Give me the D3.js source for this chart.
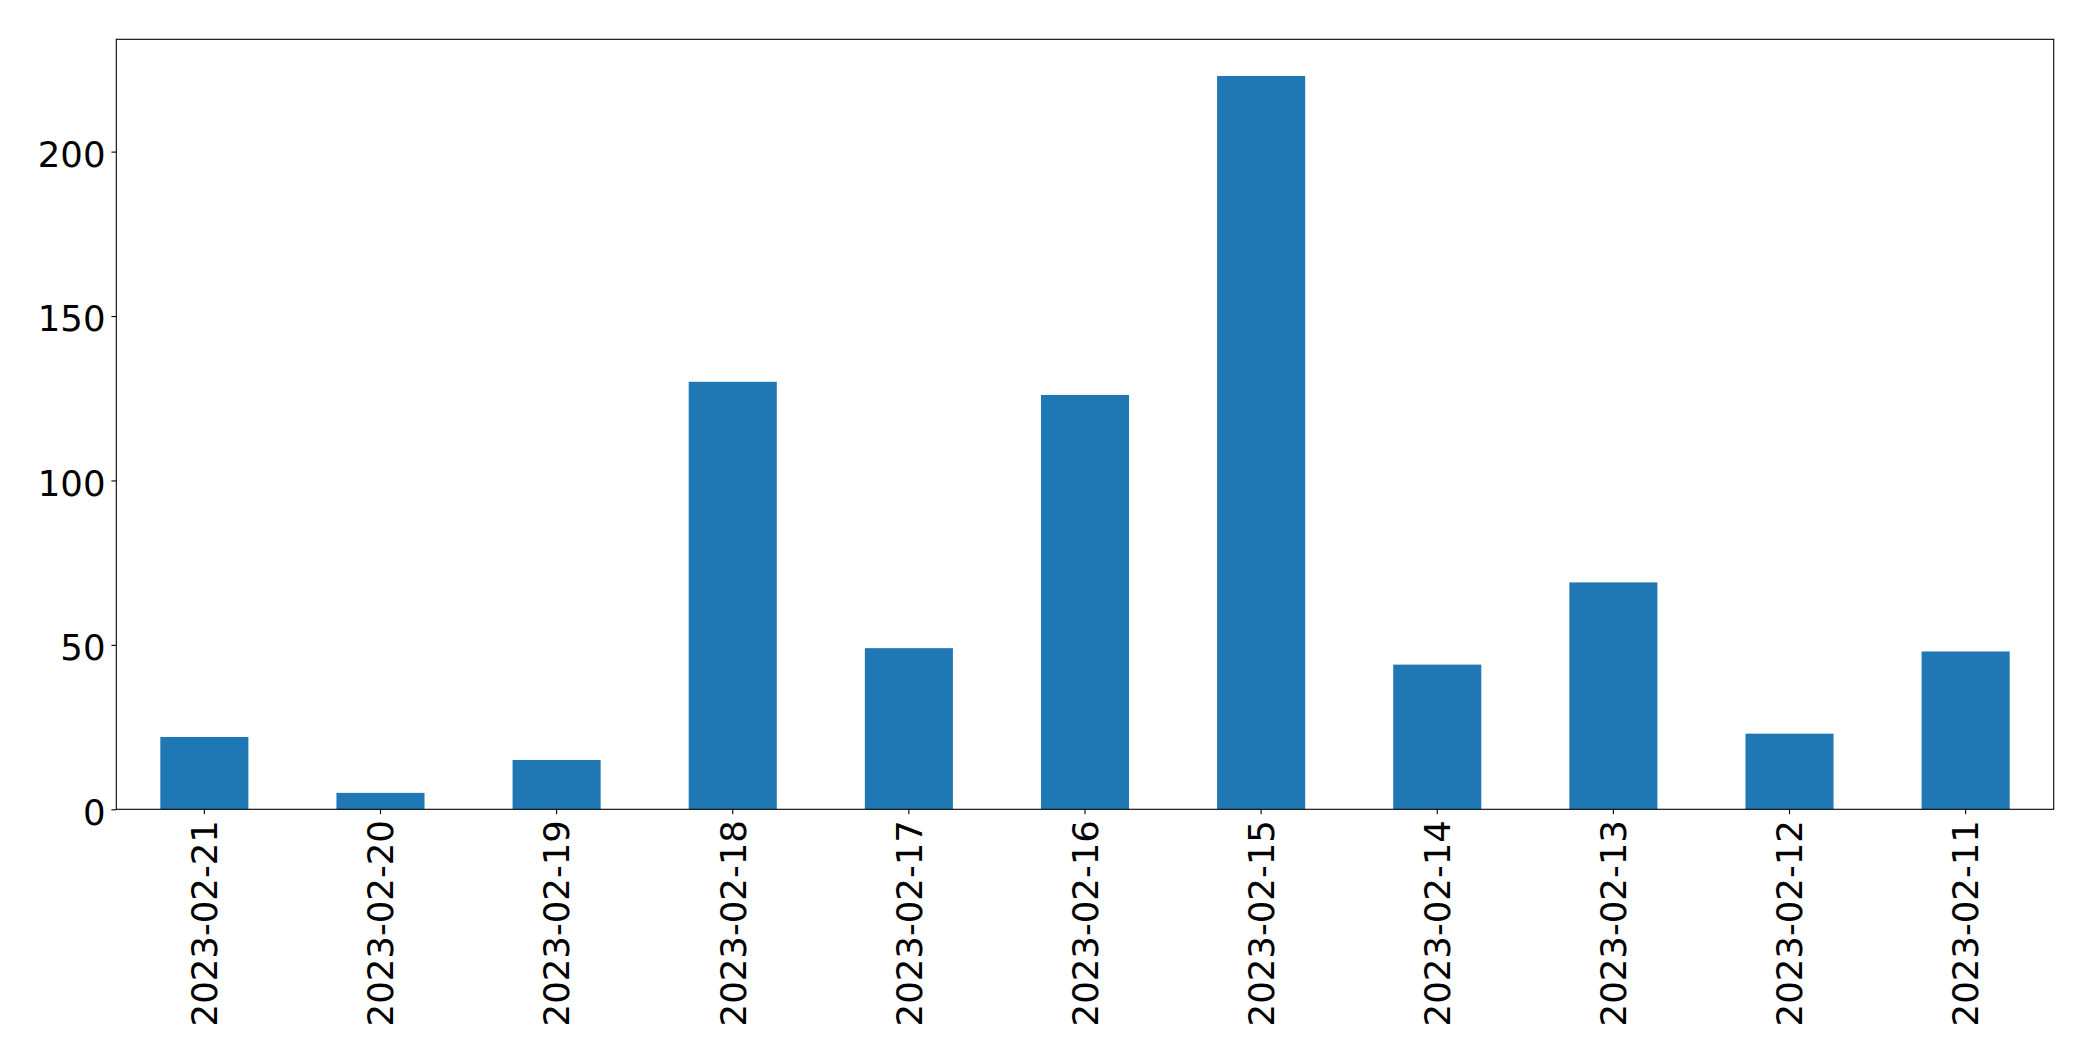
<!DOCTYPE html>
<html>
<head>
<meta charset="utf-8">
<script src="https://cdn.jsdelivr.net/npm/d3@7"></script>
<style>
  html, body { margin: 0; padding: 0; background: #fff; }
  svg { display: block; }
  text { font-family: "DejaVu Sans", sans-serif; fill: #000; }
</style>
</head>
<body>
<script>
const categories = ["2023-02-21","2023-02-20","2023-02-19","2023-02-18","2023-02-17","2023-02-16","2023-02-15","2023-02-14","2023-02-13","2023-02-12","2023-02-11"];
const values = [22, 5, 15, 130, 49, 126, 223, 44, 69, 23, 48];
const yTicks = [0, 50, 100, 150, 200];

const W = 2093, H = 1061;
const margin = {left: 116.3, top: 39.3, right: W - 2053.7, bottom: H - 809.3};
const fontSize = 35.5;
const tickLen = 4.9, pad = 4.9;

const svg = d3.select("body").append("svg").attr("width", W).attr("height", H);

const x = d3.scaleBand().domain(categories)
  .range([margin.left, W - margin.right])
  .paddingInner(0.5).paddingOuter(0.25);
const y = d3.scaleLinear().domain([0, d3.max(values) * 1.05])
  .range([H - margin.bottom, margin.top]);

// bars
svg.append("g").selectAll("rect").data(categories).join("rect")
  .attr("x", d => x(d))
  .attr("width", x.bandwidth())
  .attr("y", (d, i) => y(values[i]))
  .attr("height", (d, i) => y(0) - y(values[i]))
  .attr("fill", "#1f77b4");

// x axis
const xAxis = svg.append("g")
  .attr("transform", `translate(0,${H - margin.bottom})`)
  .call(d3.axisBottom(x).tickSizeOuter(0).tickSize(tickLen).tickPadding(pad));
xAxis.select(".domain").remove();
xAxis.selectAll(".tick line").attr("stroke", "#000").attr("stroke-width", 1.1);
xAxis.selectAll(".tick text")
  .attr("font-size", fontSize)
  .attr("font-family", "DejaVu Sans")
  .attr("transform", "rotate(-90)")
  .attr("text-anchor", "end")
  .attr("x", -(tickLen + pad + 1))
  .attr("y", 0)
  .attr("dy", "0.36em");

// y axis
const yAxis = svg.append("g")
  .attr("transform", `translate(${margin.left},0)`)
  .call(d3.axisLeft(y).tickValues(yTicks).tickSize(tickLen).tickPadding(pad + 1).tickSizeOuter(0));
yAxis.select(".domain").remove();
yAxis.selectAll(".tick line").attr("stroke", "#000").attr("stroke-width", 1.1);
yAxis.selectAll(".tick text")
  .attr("font-size", fontSize)
  .attr("font-family", "DejaVu Sans")
  .attr("dy", "0.42em");

// frame
svg.append("rect")
  .attr("x", margin.left).attr("y", margin.top)
  .attr("width", W - margin.right - margin.left)
  .attr("height", H - margin.bottom - margin.top)
  .attr("fill", "none").attr("stroke", "#000").attr("stroke-width", 1.1);
</script>
</body>
</html>
